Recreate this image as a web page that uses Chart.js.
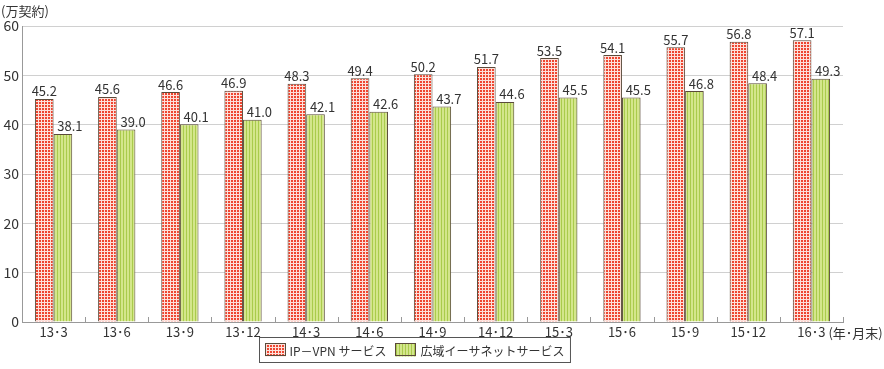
<!DOCTYPE html>
<html>
<head>
<meta charset="utf-8">
<script src="https://cdn.jsdelivr.net/npm/chart.js@4"></script>
<style>
  html, body { margin: 0; padding: 0; background: #fff; }
  #wrap { width: 884px; height: 369px; position: relative; }
</style>
</head>
<body>
<div id="wrap"><canvas id="c" width="884" height="369"></canvas></div>
<script>
// データ
const categories = ['13･3', '13･6', '13･9', '13･12', '14･3', '14･6', '14･9', '14･12', '15･3', '15･6', '15･9', '15･12', '16･3'];
const ipVpn = [45.2, 45.6, 46.6, 46.9, 48.3, 49.4, 50.2, 51.7, 53.5, 54.1, 55.7, 56.8, 57.1];
const ethernet = [38.1, 39.0, 40.1, 41.0, 42.1, 42.6, 43.7, 44.6, 45.5, 45.5, 46.8, 48.4, 49.3];
const seriesNames = ['IP－VPN サービス', '広域イーサネットサービス'];
const yTicks = [0, 10, 20, 30, 40, 50, 60];
const yUnit = '(万契約)';
const xUnit = '(年･月末)';

const FONT = '"Noto Sans CJK JP", "Noto Sans", sans-serif';
const TEXT = '#333';

// パターン
function redPattern() {
    const p = document.createElement('canvas');
    p.width = 3; p.height = 3;
    const g = p.getContext('2d');
    g.fillStyle = '#fde0da';
    g.fillRect(0, 0, 3, 3);
    g.fillStyle = '#ee4630';
    g.fillRect(0, 0, 2, 2);
    return g.createPattern(p, 'repeat');
}
function greenPattern() {
    const p = document.createElement('canvas');
    p.width = 3; p.height = 3;
    const g = p.getContext('2d');
    g.fillStyle = '#d4e68c';
    g.fillRect(0, 0, 3, 3);
    g.fillStyle = '#aacb4c';
    g.fillRect(0, 0, 1, 3);
    return g.createPattern(p, 'repeat');
}
const fills = [redPattern(), greenPattern()];

// 値ラベル・目盛り・凡例
const extras = {
    id: 'extras',
    afterDatasetsDraw(chart) {
        const ctx = chart.ctx;
        const xs = chart.scales.x;
        const area = chart.chartArea;
        ctx.save();
        // x軸の小さな目盛り（カテゴリ境界）
        ctx.strokeStyle = '#999';
        ctx.lineWidth = 1;
        for (let i = 1; i <= categories.length; i++) {
            let x;
            if (i < categories.length) {
                x = (xs.getPixelForTick(i - 1) + xs.getPixelForTick(i)) / 2;
            } else {
                x = area.right;
            }
            x = Math.round(x) + 0.5;
            ctx.beginPath();
            ctx.moveTo(x, area.bottom);
            ctx.lineTo(x, area.bottom - 5);
            ctx.stroke();
        }
        // 値ラベル
        ctx.font = '13px ' + FONT;
        ctx.fillStyle = TEXT;
        ctx.textBaseline = 'bottom';
        ctx.textAlign = 'center';
        chart.data.datasets.forEach((ds, di) => {
            const meta = chart.getDatasetMeta(di);
            meta.data.forEach((bar, i) => {
                const shift = di === 1 ? 7 : 0;
                ctx.fillText(ds.data[i].toFixed(1), bar.x + shift, bar.y - 1);
            });
        });
        // 単位
        ctx.textAlign = 'left';
        ctx.textBaseline = 'middle';
        ctx.fillText(yUnit, 1, 11);
        ctx.fillText(xUnit, xs.getPixelForTick(categories.length - 1) + 17, 333);

        // 凡例
        ctx.font = '12px ' + FONT;
        const sw = 21, gapA = 4, gapB = 9, padL = 5, padR = 6;
        const w0 = ctx.measureText(seriesNames[0]).width;
        const w1 = ctx.measureText(seriesNames[1]).width;
        const total = padL + sw + gapA + w0 + gapB + sw + gapA + w1 + padR;
        const cx = (area.left + area.right) / 2 - 18;
        const left = Math.round(cx - total / 2) + 0.5;
        const top = 337.5, h = 25;
        ctx.strokeStyle = '#555';
        ctx.strokeRect(left, top, total, h);
        let x = left + padL;
        [w0, w1].forEach((w, k) => {
            ctx.fillStyle = fills[k];
            ctx.fillRect(Math.round(x), top + 6, sw, 13);
            ctx.strokeStyle = '#5a4a3a';
            ctx.strokeRect(Math.round(x) + 0.5, top + 6, sw - 1, 12);
            x += sw + gapA;
            ctx.fillStyle = TEXT;
            ctx.fillText(seriesNames[k], x, top + h / 2 + 1);
            x += w + gapB;
        });
        ctx.restore();
    }
};

new Chart(document.getElementById('c'), {
    type: 'bar',
    data: {
        labels: categories,
        datasets: [
            { label: seriesNames[0], data: ipVpn, backgroundColor: fills[0], borderColor: '#5a4a3a', borderWidth: 1 },
            { label: seriesNames[1], data: ethernet, backgroundColor: fills[1], borderColor: '#5a4a3a', borderWidth: 1 }
        ]
    },
    options: {
        responsive: false,
        animation: false,
        devicePixelRatio: 1,
        layout: { padding: { top: 26, right: 41, bottom: 0, left: 0 } },
        plugins: { legend: { display: false }, tooltip: { enabled: false } },
        datasets: { bar: { categoryPercentage: 0.59, barPercentage: 1.0 } },
        scales: {
            x: {
                grid: { display: false, drawTicks: false },
                border: { color: '#999', width: 1 },
                ticks: { color: TEXT, font: { family: FONT, size: 13 }, padding: 2, maxRotation: 0 },
                afterFit(s) { s.height = 47; }
            },
            y: {
                min: 0,
                max: 60,
                afterBuildTicks(s) { s.ticks = yTicks.map(v => ({ value: v })); },
                grid: { color: '#d0d0d0', drawTicks: false },
                border: { color: '#999', width: 1 },
                ticks: { color: TEXT, font: { family: FONT, size: 14 }, padding: 3 },
                afterFit(s) { s.width = 22; }
            }
        }
    },
    plugins: [extras]
});
</script>
</body>
</html>
